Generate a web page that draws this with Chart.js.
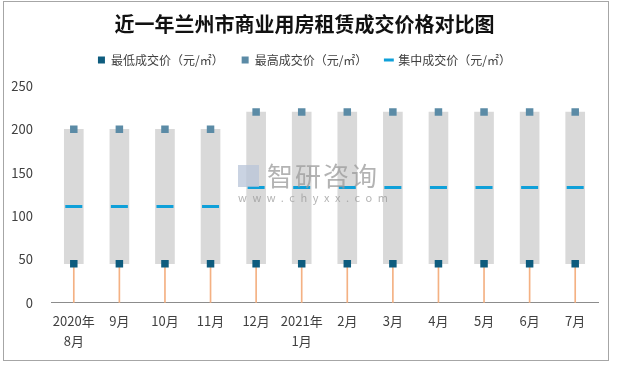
<!DOCTYPE html>
<html>
<head>
<meta charset="utf-8">
<script src="https://cdn.jsdelivr.net/npm/chart.js@4"></script>
<style>
  body { margin: 0; background: #fff; }
  #wrap { position: relative; width: 617px; height: 365px; }
  #frame { position: absolute; left: 3px; top: 1px; width: 604px; height: 358px; border: 1px solid #a6a6a6; pointer-events: none; }
  #mark { position: absolute; left: 238px; top: 162px; color: #9a9a9a; opacity: 0.75; font-family: "Noto Sans CJK SC"; }
  #mark .logo { position: absolute; left: 0; top: 3px; width: 21px; height: 22px; background: #b9c5d8; }
  #mark .name { position: absolute; left: 29px; top: -6px; font-size: 26px; letter-spacing: 2px; white-space: nowrap; }
  #mark .url { position: absolute; left: 0; top: 27px; font-size: 11px; letter-spacing: 5.6px; white-space: nowrap; }
</style>
</head>
<body>
<div id="wrap">
  <canvas id="chart" width="617" height="365"></canvas>
  <div id="mark"><div class="logo"></div><div class="name">智研咨询</div><div class="url">www.chyxx.com</div></div>
  <div id="frame"></div>
</div>
<script>
// 月份
const categories = [['2020年', '8月'], '9月', '10月', '11月', '12月', ['2021年', '1月'], '2月', '3月', '4月', '5月', '6月', '7月'];
// 价格(元/㎡)
const lowPrice = [45, 45, 45, 45, 45, 45, 45, 45, 45, 45, 45, 45];
const highPrice = [200, 200, 200, 200, 220, 220, 220, 220, 220, 220, 220, 220];
const midPrice = [111, 111, 111, 111, 133, 133, 133, 133, 133, 133, 133, 133];
const yTicks = [0, 50, 100, 150, 200, 250];

const seriesNames = ['最低成交价（元/㎡）', '最高成交价（元/㎡）', '集中成交价（元/㎡）'];

Chart.defaults.font.family = '"Noto Sans CJK SC", "Noto Sans", sans-serif';
Chart.defaults.color = '#404040';

// 图例下方留点空隙
const legendGap = {
  id: 'legendGap',
  beforeInit(chart) {
    const fit = chart.legend.fit;
    chart.legend.fit = function () {
      fit.bind(chart.legend)();
      this.height += 10;
    };
  }
};

new Chart(document.getElementById('chart'), {
  type: 'bar',
  data: {
    labels: categories,
    datasets: [
      {
        type: 'line',
        label: seriesNames[0],
        data: lowPrice,
        showLine: false,
        pointStyle: 'rect',
        pointRadius: 5.3,
        pointBorderWidth: 0,
        pointBackgroundColor: '#0e5c7e',
        backgroundColor: '#0e5c7e',
        borderColor: '#0e5c7e'
      },
      {
        type: 'line',
        label: seriesNames[1],
        data: highPrice,
        showLine: false,
        pointStyle: 'rect',
        pointRadius: 5.3,
        pointBorderWidth: 0,
        pointBackgroundColor: '#5b8ba6',
        backgroundColor: '#5b8ba6',
        borderColor: '#5b8ba6'
      },
      {
        type: 'line',
        label: seriesNames[2],
        data: midPrice,
        showLine: false,
        pointStyle: 'line',
        pointRadius: 8.5,
        pointBorderWidth: 3,
        pointBorderColor: '#0fa0d9',
        borderColor: '#0fa0d9',
        backgroundColor: '#0fa0d9'
      },
      {
        // 灰色区间
        label: 'range',
        data: lowPrice.map((v, i) => [v, highPrice[i]]),
        backgroundColor: '#d9d9d9',
        barThickness: 19,
        grouped: false
      },
      {
        // 橙色竖线
        label: 'stem',
        data: lowPrice.map(v => [0, v]),
        backgroundColor: '#f4b183',
        barThickness: 1,
        grouped: false
      }
    ]
  },
  options: {
    responsive: false,
    animation: false,
    layout: { padding: { left: 11, right: 19, top: 0, bottom: 6 } },
    plugins: {
      title: {
        display: true,
        text: '近一年兰州市商业用房租赁成交价格对比图',
        color: '#111',
        font: { size: 20, weight: 'bold', lineHeight: 1.1 },
        padding: { top: 13, bottom: 1 }
      },
      legend: {
        position: 'top',
        labels: {
          usePointStyle: true,
          boxWidth: 7,
          boxHeight: 7,
          padding: 18,
          color: '#404040',
          font: { size: 12 },
          filter: item => item.datasetIndex < 3
        }
      },
      tooltip: { enabled: false }
    },
    scales: {
      x: {
        grid: { display: false, drawTicks: false },
        border: { color: '#8c8c8c' },
        ticks: { padding: 8, maxRotation: 0, autoSkip: false, font: { size: 13, lineHeight: 1.55 } }
      },
      y: {
        min: 0,
        max: 250,
        afterBuildTicks: axis => { axis.ticks = yTicks.map(v => ({ value: v })); },
        afterFit: axis => { axis.width = 40; },
        grid: { display: false, drawTicks: false },
        border: { display: false },
        ticks: { padding: 18, font: { size: 13 } }
      }
    }
  },
  plugins: [legendGap]
});
</script>
</body>
</html>
